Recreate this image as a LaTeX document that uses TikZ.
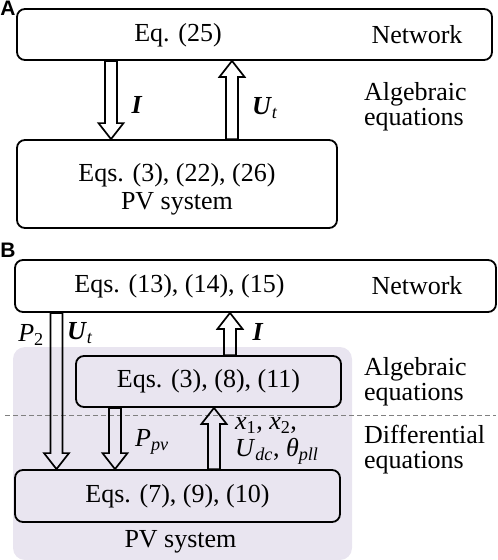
\documentclass[tikz,border=0pt]{standalone}
\usepackage{fontspec}
\usepackage{amsmath}
\setmainfont{Liberation Serif}
\newfontfamily\labfont{Liberation Sans}
\usetikzlibrary{calc}
\definecolor{pvshade}{RGB}{233,229,240}
\tikzset{
  box/.style={draw, line width=1.8pt, rounded corners=8pt, inner sep=0pt},
  txt/.style={font=\fontsize{26}{28}\selectfont, inner sep=0pt},
  side/.style={txt, font=\fontsize{26}{25}\selectfont, align=left, anchor=west},
  panel/.style={font=\labfont\bfseries\fontsize{21}{21}\selectfont, inner sep=0pt},
  fat/.style={line width=1.7pt, line join=miter, to path={
    ($(\tikztotarget)!16pt!(\tikztostart)$) coordinate (hb)
    ($(\tikztostart)!6pt!90:(\tikztotarget)$) -- ($(hb)!6pt!90:(\tikztotarget)$)
    -- ($(hb)!12.5pt!90:(\tikztotarget)$) -- (\tikztotarget)
    -- ($(hb)!12.5pt!-90:(\tikztotarget)$) -- ($(hb)!6pt!-90:(\tikztotarget)$)
    -- ($(\tikztostart)!6pt!-90:(\tikztotarget)$) -- cycle}}
}
\begin{document}
\begin{tikzpicture}[x=1pt,y=-1pt]
\useasboundingbox (0,0) rectangle (498,560);
% A: network and PV system, algebraic only
\node[panel] (labA) at (8,8) {A};
\node[box, minimum width=475pt, minimum height=51pt] (netA) at (254.5,34.5) {};
\node[txt] (eqA) at (178,35) {Eq. (25)};
\node[txt] (nwA) at (417,35) {Network};
\node[box, minimum width=320pt, minimum height=88pt] (pvA) at (177,184) {};
\node[txt, align=center] (pvAt) at (177,189) {Eqs. (3), (22), (26)\\PV system};
\node[side] (algA) at (364,107) {Algebraic\\equations};
\coordinate (xI) at (111,0);
\coordinate (xU) at (232,0);
\draw[fat] (xI |- netA.south) to (xI |- pvA.north);
\draw[fat] (xU |- pvA.north) to (xU |- netA.south);
\node[txt] (lI) at (137,105) {\textbf{\textit{I}}};
\node[txt] (lU) at (265,108) {\textbf{\textit{U}}\textsubscript{\textit{t}}};
% B: PV system split in algebraic and differential parts
\fill[pvshade, rounded corners=12pt] (13,347) rectangle (352,560);
\node[panel] (labB) at (8,250) {B};
\node[box, minimum width=481pt, minimum height=52pt] (netB) at (255.5,286) {};
\node[txt] (eqB) at (179.5,286) {Eqs. (13), (14), (15)};
\node[txt] (nwB) at (417,286) {Network};
\node[box, txt, minimum width=265pt, minimum height=51pt] (algB) at (208.5,381.5) {Eqs. (3), (8), (11)};
\node[box, txt, minimum width=325pt, minimum height=52pt] (pvB) at (177.5,496) {Eqs. (7), (9), (10)};
\node[txt] (sysB) at (180.5,542) {PV system};
\draw[gray, line width=0.8pt, dash pattern=on 5pt off 3pt] (5,415) coordinate (dl) -- (496,415) coordinate (dr);
\node[side] (algT) at (364,382) {Algebraic\\equations};
\node[side] (difT) at (364,450) {Differential\\equations};
\coordinate (xP) at (56.5,0);
\coordinate (xI2) at (230,0);
\coordinate (xPpv) at (115,0);
\coordinate (xX) at (214,0);
\draw[fat] (xP |- netB.south) to (xP |- pvB.north);
\draw[fat] (xI2 |- algB.north) to (xI2 |- netB.south);
\draw[fat] (xPpv |- algB.south) to (xPpv |- pvB.north);
\draw[fat] (xX |- pvB.north) to (xX |- algB.south);
\node[txt] (lP2) at (31,335) {\textit{P}\textsubscript{2}};
\node[txt] (lU2) at (80,333) {\textbf{\textit{U}}\textsubscript{\textit{t}}};
\node[txt] (lI2) at (258,332) {\textbf{\textit{I}}};
\node[txt] (lPpv) at (152,442) {\textit{P}\textsubscript{\textit{pv}}};
\node[side, font=\fontsize{26}{27}\selectfont] (lX) at (235,441) {\textit{x}\textsubscript{1}, \textit{x}\textsubscript{2},\\\textit{U}\textsubscript{\textit{dc}}, \textit{θ}\textsubscript{\textit{pll}}};
\end{tikzpicture}
\end{document}
